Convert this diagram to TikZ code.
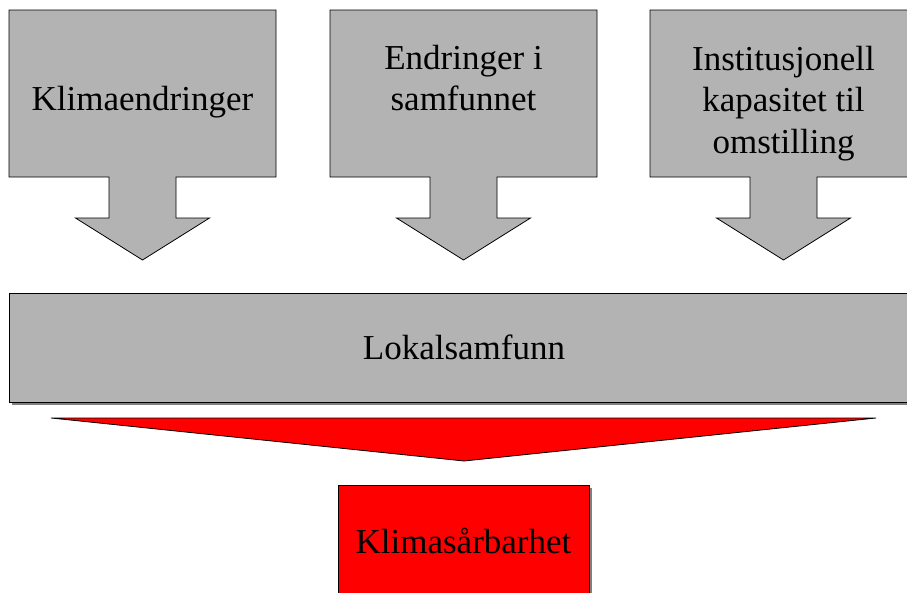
\documentclass[tikz,border=0pt]{standalone}
\usepackage{fontspec}
\setmainfont{Liberation Serif}
\usepackage{xcolor}
\usepackage{tikz}
\usetikzlibrary{positioning, calc, shadows}

\definecolor{boxgray}{RGB}{179,179,179}
\definecolor{shadowgray}{RGB}{128,128,128}

\begin{document}
\begin{tikzpicture}[x=1pt, y=-1pt,
  big/.style={font=\fontsize{35pt}{41.5pt}\selectfont, align=center},
  callout/.style={draw, line width=0.8pt, fill=boxgray},
  shadowed/.style={drop shadow={shadow xshift=3pt, shadow yshift=-3pt, fill=shadowgray, opacity=1}}]
\useasboundingbox (0,0) rectangle (907,592);
\clip (0,0) rectangle (907,592);

% Top row: three drivers, each a box with an arrow pointing down
\foreach \cx/\cy/\name/\txt in {142.5/102/klima/Klimaendringer, 463.5/78/samfunn/{Endringer i\\samfunnet}, 783.5/103.5/kapasitet/{Institusjonell\\kapasitet til\\omstilling}} {
  \draw[callout] (\cx-133.5,10) -- (\cx+133.5,10) -- (\cx+133.5,177) -- (\cx+33.5,177) -- (\cx+33.5,218) -- (\cx+67,218) -- (\cx,260) -- (\cx-67,218) -- (\cx-33.5,218) -- (\cx-33.5,177) -- (\cx-133.5,177) -- cycle;
  \node[big] (\name) at (\cx,\cy) {\txt};
}

% Middle: the local community
\node[draw, line width=0.8pt, fill=boxgray, shadowed, minimum width=910pt, minimum height=109pt, big, text height=24pt, text depth=0pt] (lokal) at (464,347.5) {Lokalsamfunn};

% Red funnel down to the result
\coordinate (funnel tip) at (464,461);
\draw[line width=0.8pt, fill=red] (51,418) -- (876,418) -- (funnel tip) -- cycle;

% Result
\node[draw, line width=0.8pt, fill=red, shadowed, minimum width=251pt, minimum height=112pt, big, text height=24pt, text depth=0pt] (saarbar) at (463.5,541) {Klimasårbarhet};
\end{tikzpicture}
\end{document}
